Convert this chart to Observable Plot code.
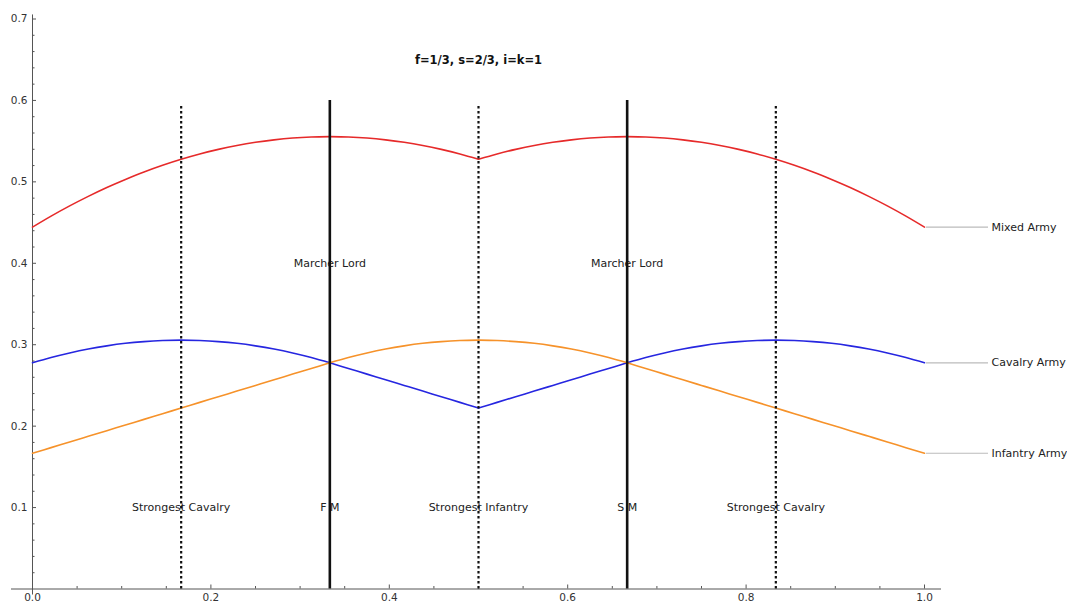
<!DOCTYPE html>
<html>
<head>
<meta charset="utf-8">
<script src="https://cdn.jsdelivr.net/npm/d3@7"></script>
<script src="https://cdn.jsdelivr.net/npm/@observablehq/plot@0.6"></script>
<style>
  html, body { margin: 0; padding: 0; background: #fff; }
  #chart svg { display: block; }
</style>
</head>
<body>
<div id="chart"></div>
<script>
// x positions (k/48, k = 0..48)
const xs = d3.range(49).map(k => k / 48);

const mixedArmy = [0.4444,0.4579,0.4705,0.4822,0.4931,0.5030,0.5122,0.5204,0.5278,0.5343,0.5399,0.5447,0.5486,0.5516,0.5538,0.5551,0.5556,0.5551,0.5538,0.5516,0.5486,0.5447,0.5399,0.5343,0.5278,
  0.5343,0.5399,0.5447,0.5486,0.5516,0.5538,0.5551,0.5556,0.5551,0.5538,0.5516,0.5486,0.5447,0.5399,0.5343,0.5278,0.5204,0.5122,0.5030,0.4931,0.4822,0.4705,0.4579,0.4444];
const cavalryArmy = [0.2778,0.2843,0.2899,0.2947,0.2986,0.3017,0.3038,0.3051,0.3056,0.3051,0.3038,0.3017,0.2986,0.2947,0.2899,0.2843,0.2778,0.2708,0.2639,0.2569,0.2500,0.2431,0.2361,0.2292,0.2222,
  0.2292,0.2361,0.2431,0.2500,0.2569,0.2639,0.2708,0.2778,0.2843,0.2899,0.2947,0.2986,0.3017,0.3038,0.3051,0.3056,0.3051,0.3038,0.3017,0.2986,0.2947,0.2899,0.2843,0.2778];
const infantryArmy = [0.1667,0.1736,0.1806,0.1875,0.1944,0.2014,0.2083,0.2153,0.2222,0.2292,0.2361,0.2431,0.2500,0.2569,0.2639,0.2708,0.2778,0.2843,0.2899,0.2947,0.2986,0.3017,0.3038,0.3051,0.3056,
  0.3051,0.3038,0.3017,0.2986,0.2947,0.2899,0.2843,0.2778,0.2708,0.2639,0.2569,0.2500,0.2431,0.2361,0.2292,0.2222,0.2153,0.2083,0.2014,0.1944,0.1875,0.1806,0.1736,0.1667];

const seriesNames = ["Mixed Army", "Cavalry Army", "Infantry Army"];
const seriesValues = [mixedArmy, cavalryArmy, infantryArmy];
const seriesColors = ["#e62a2a", "#2626e0", "#f6922a"];

// kink indices (into xs) where the curves change regime
const breaks = [0, 16, 24, 32, 48];

// vertical marker lines
const solidLines = [1/3, 2/3];
const dottedLines = [1/6, 1/2, 5/6];
const solidTop = 0.6;
const dottedTop = 0.595;

// annotations
const topLabels = [{x: 1/3, y: 0.4, t: "Marcher Lord"}, {x: 2/3, y: 0.4, t: "Marcher Lord"}];
const bottomLabels = [
  {x: 1/6, y: 0.1, t: "Strongest Cavalry"},
  {x: 1/3, y: 0.1, t: "F M"},
  {x: 1/2, y: 0.1, t: "Strongest Infantry"},
  {x: 2/3, y: 0.1, t: "S M"},
  {x: 5/6, y: 0.1, t: "Strongest Cavalry"}
];
const title = "f=1/3, s=2/3, i=k=1";

// ticks
const xMajor = [0, 0.2, 0.4, 0.6, 0.8, 1.0];
const xMinor = d3.range(1, 21).map(i => i * 0.05).filter(v => Math.abs(v / 0.2 - Math.round(v / 0.2)) > 1e-6);
const yMajor = [0.1, 0.2, 0.3, 0.4, 0.5, 0.6, 0.7];
const yMinor = d3.range(1, 36).map(i => i * 0.02).filter(v => Math.abs(v / 0.1 - Math.round(v / 0.1)) > 1e-6);

const lineData = [];
seriesNames.forEach((name, s) => {
  for (let b = 0; b < breaks.length - 1; b++) {
    for (let i = breaks[b]; i <= breaks[b + 1]; i++) {
      lineData.push({series: name, seg: name + b, x: xs[i], y: seriesValues[s][i]});
    }
  }
});
const ends = seriesNames.map((name, s) => ({series: name, y: seriesValues[s][seriesValues[s].length - 1]}));

const xRange = [32, 924];
const yRange = [588.5, 18.5];
const pxX = 1 / (xRange[1] - xRange[0]);           // data units per pixel (x)
const pxY = 0.7 / (yRange[0] - yRange[1]);         // data units per pixel (y)

const axisColor = "#555";
const labelColor = "#333";

const chart = Plot.plot({
  width: 1067,
  height: 602,
  marginLeft: 0, marginRight: 0, marginTop: 0, marginBottom: 0,
  x: {domain: [0, 1], range: xRange, axis: null},
  y: {domain: [0, 0.7], range: yRange, axis: null},
  color: {domain: seriesNames, range: seriesColors},
  style: {fontFamily: "DejaVu Sans, sans-serif", fontSize: "11px", background: "#fff", overflow: "visible"},
  marks: [
    // axes
    Plot.ruleY([0], {x1: -21 * pxX, x2: 1 + 17 * pxX, stroke: axisColor, strokeWidth: 1}),
    Plot.ruleX([0], {y1: -6 * pxY, y2: 0.705, stroke: axisColor, strokeWidth: 1}),
    Plot.ruleX(xMajor, {x: d => d, y1: 0, y2: 4 * pxY, stroke: axisColor}),
    Plot.ruleX(xMinor, {x: d => d, y1: 0, y2: 2.5 * pxY, stroke: axisColor}),
    Plot.ruleY(yMajor, {y: d => d, x1: 0, x2: 4 * pxX, stroke: axisColor}),
    Plot.ruleY(yMinor, {y: d => d, x1: 0, x2: 2.5 * pxX, stroke: axisColor}),
    Plot.text(xMajor, {x: d => d, y: 0, dy: 8.5, text: d => d.toFixed(1), fill: labelColor, fontSize: 10.5}),
    Plot.text(yMajor, {x: 0, y: d => d, dx: -5, textAnchor: "end", text: d => d.toFixed(1), fill: labelColor, fontSize: 10.5}),

    // labels (drawn below the marker lines)
    Plot.text(topLabels, {x: "x", y: "y", text: "t", fill: "#222", fontSize: 11}),
    Plot.text(bottomLabels, {x: "x", y: "y", text: "t", fill: "#222", fontSize: 11}),

    // curves
    Plot.line(lineData, {x: "x", y: "y", z: "seg", stroke: "series", strokeWidth: 1.6, curve: "catmull-rom"}),

    // leader lines and series labels
    Plot.ruleY(ends, {y: "y", x1: 1 + 2 * pxX, x2: 1 + 64 * pxX, stroke: "#bbb", strokeWidth: 1.2}),
    Plot.text(ends, {x: 1 + 67 * pxX, y: "y", text: "series", textAnchor: "start", fill: "#222", fontSize: 11}),

    // marker lines
    Plot.ruleX(solidLines, {x: d => d, y1: 0, y2: solidTop, stroke: "#111", strokeWidth: 2.6}),
    Plot.ruleX(dottedLines, {x: d => d, y1: 0, y2: dottedTop, stroke: "#111", strokeWidth: 2.2, strokeDasharray: "2.6,2.4"}),

    // title
    Plot.text([title], {x: 0.5, y: 0.649, text: d => d, fontWeight: "bold", fontSize: 11.5, fill: "#111"})
  ]
});

document.getElementById("chart").appendChild(chart);
</script>
</body>
</html>
